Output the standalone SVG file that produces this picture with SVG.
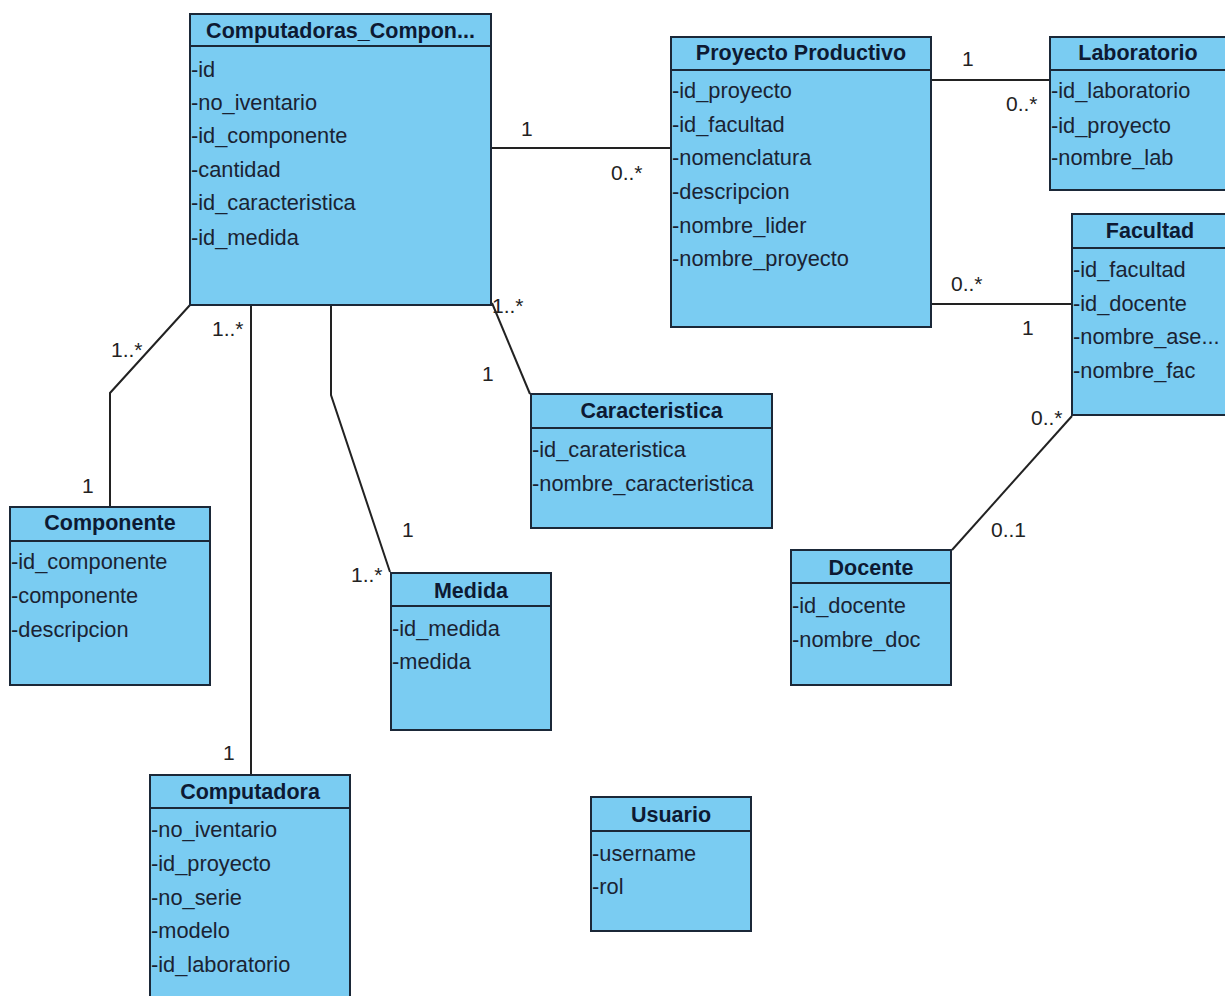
<svg xmlns="http://www.w3.org/2000/svg" width="1225" height="996" viewBox="0 0 1225 996">
  <style>
    .box { fill: #7accf2; stroke: #1b2838; stroke-width: 2; }
    .sep { stroke: #1b2838; stroke-width: 2; }
    .title { font-family: "Liberation Sans", Arial, sans-serif; font-size: 21.5px; font-weight: bold; fill: #0d1a33; text-anchor: middle; }
    .attr { font-family: "Liberation Sans", Arial, sans-serif; font-size: 21.8px; fill: #1a2333; }
    .edge { fill: none; stroke: #222; stroke-width: 2; }
    .mult { font-family: "Liberation Sans", Arial, sans-serif; font-size: 21px; fill: #222; }
  </style>
  <rect width="1225" height="996" fill="#ffffff"/>

  <!-- associations -->
  <g id="connectors">
    <polyline class="edge" points="491,148 671,148"/>
    <polyline class="edge" points="931,80 1050,80"/>
    <polyline class="edge" points="931,304 1072,304"/>
    <polyline class="edge" points="190,305 110,393 110,507"/>
    <polyline class="edge" points="251,305 251,775"/>
    <polyline class="edge" points="331,305 331,395 390,572"/>
    <polyline class="edge" points="492,303 530,394"/>
    <polyline class="edge" points="1072,416 952,550"/>

    <text class="mult" x="521" y="136">1</text>
    <text class="mult" x="611" y="180">0..*</text>
    <text class="mult" x="962" y="66">1</text>
    <text class="mult" x="1006" y="111">0..*</text>
    <text class="mult" x="951" y="291">0..*</text>
    <text class="mult" x="1022" y="335">1</text>
    <text class="mult" x="1031" y="425">0..*</text>
    <text class="mult" x="991" y="537">0..1</text>
    <text class="mult" x="111" y="357">1..*</text>
    <text class="mult" x="82" y="493">1</text>
    <text class="mult" x="212" y="336">1..*</text>
    <text class="mult" x="223" y="760">1</text>
    <text class="mult" x="402" y="537">1</text>
    <text class="mult" x="351" y="582">1..*</text>
    <text class="mult" x="492" y="313">1..*</text>
    <text class="mult" x="482" y="381">1</text>
  </g>

  <g id="computadoras-componentes">
    <rect class="box" x="190" y="14" width="301" height="291"/>
    <line class="sep" x1="190" y1="46" x2="491" y2="46"/>
    <text class="title" x="340.5" y="38">Computadoras_Compon...</text>
    <text class="attr" x="191" y="77">-id</text>
    <text class="attr" x="191" y="110">-no_iventario</text>
    <text class="attr" x="191" y="143">-id_componente</text>
    <text class="attr" x="191" y="177">-cantidad</text>
    <text class="attr" x="191" y="210">-id_caracteristica</text>
    <text class="attr" x="191" y="245">-id_medida</text>
  </g>

  <g id="proyecto-productivo">
    <rect class="box" x="671" y="37" width="260" height="290"/>
    <line class="sep" x1="671" y1="70" x2="931" y2="70"/>
    <text class="title" x="801" y="60">Proyecto Productivo</text>
    <text class="attr" x="672" y="98">-id_proyecto</text>
    <text class="attr" x="672" y="132">-id_facultad</text>
    <text class="attr" x="672" y="165">-nomenclatura</text>
    <text class="attr" x="672" y="199">-descripcion</text>
    <text class="attr" x="672" y="233">-nombre_lider</text>
    <text class="attr" x="672" y="266">-nombre_proyecto</text>
  </g>

  <g id="laboratorio">
    <rect class="box" x="1050" y="37" width="176" height="153"/>
    <line class="sep" x1="1050" y1="70" x2="1226" y2="70"/>
    <text class="title" x="1138" y="60">Laboratorio</text>
    <text class="attr" x="1051" y="98">-id_laboratorio</text>
    <text class="attr" x="1051" y="133">-id_proyecto</text>
    <text class="attr" x="1051" y="165">-nombre_lab</text>
  </g>

  <g id="facultad">
    <rect class="box" x="1072" y="214" width="156" height="201"/>
    <line class="sep" x1="1072" y1="248" x2="1228" y2="248"/>
    <text class="title" x="1150" y="238">Facultad</text>
    <text class="attr" x="1073" y="277">-id_facultad</text>
    <text class="attr" x="1073" y="311">-id_docente</text>
    <text class="attr" x="1073" y="344">-nombre_ase...</text>
    <text class="attr" x="1073" y="378">-nombre_fac</text>
  </g>

  <g id="caracteristica">
    <rect class="box" x="531" y="394" width="241" height="134"/>
    <line class="sep" x1="531" y1="428" x2="772" y2="428"/>
    <text class="title" x="651.5" y="418">Caracteristica</text>
    <text class="attr" x="532" y="457">-id_carateristica</text>
    <text class="attr" x="532" y="491">-nombre_caracteristica</text>
  </g>

  <g id="componente">
    <rect class="box" x="10" y="507" width="200" height="178"/>
    <line class="sep" x1="10" y1="541" x2="210" y2="541"/>
    <text class="title" x="110" y="530">Componente</text>
    <text class="attr" x="11" y="569">-id_componente</text>
    <text class="attr" x="11" y="603">-componente</text>
    <text class="attr" x="11" y="637">-descripcion</text>
  </g>

  <g id="medida">
    <rect class="box" x="391" y="573" width="160" height="157"/>
    <line class="sep" x1="391" y1="606" x2="551" y2="606"/>
    <text class="title" x="471" y="598">Medida</text>
    <text class="attr" x="392" y="636">-id_medida</text>
    <text class="attr" x="392" y="669">-medida</text>
  </g>

  <g id="docente">
    <rect class="box" x="791" y="550" width="160" height="135"/>
    <line class="sep" x1="791" y1="583" x2="951" y2="583"/>
    <text class="title" x="871" y="575">Docente</text>
    <text class="attr" x="792" y="613">-id_docente</text>
    <text class="attr" x="792" y="647">-nombre_doc</text>
  </g>

  <g id="computadora">
    <rect class="box" x="150" y="775" width="200" height="230"/>
    <line class="sep" x1="150" y1="808" x2="350" y2="808"/>
    <text class="title" x="250" y="799">Computadora</text>
    <text class="attr" x="151" y="837">-no_iventario</text>
    <text class="attr" x="151" y="871">-id_proyecto</text>
    <text class="attr" x="151" y="905">-no_serie</text>
    <text class="attr" x="151" y="938">-modelo</text>
    <text class="attr" x="151" y="972">-id_laboratorio</text>
  </g>

  <g id="usuario">
    <rect class="box" x="591" y="797" width="160" height="134"/>
    <line class="sep" x1="591" y1="831" x2="751" y2="831"/>
    <text class="title" x="671" y="822">Usuario</text>
    <text class="attr" x="592" y="861">-username</text>
    <text class="attr" x="592" y="894">-rol</text>
  </g>
</svg>
